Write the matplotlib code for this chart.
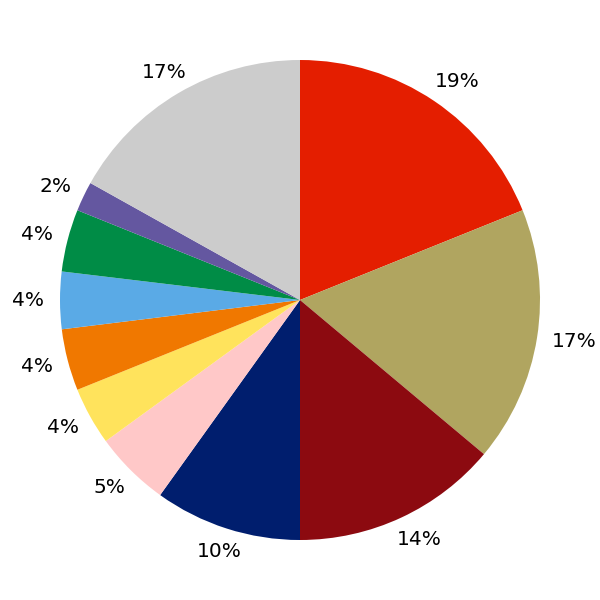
import matplotlib
matplotlib.use("Agg")
import numpy as np
from matplotlib import pyplot as plt

# valores (em %), sentido horario a partir do topo
values = [18.9, 17.2, 13.9, 9.9, 5.1, 3.9, 4.15, 3.85, 4.2, 2.0, 16.9]
colors = ["#E41E00", "#B0A560", "#8C0A10", "#001E6E", "#FFC8C8", "#FFE35C",
          "#F07800", "#5AAAE6", "#008C46", "#6457A0", "#CCCCCC"]

fig = plt.figure(figsize=(6, 6), dpi=100)
ax = fig.add_axes([0, 0, 1, 1])

wedges, texts, autotexts = ax.pie(values, colors=colors, startangle=90, counterclock=False,
                                  autopct="%1.0f%%", pctdistance=1.13,
                                  textprops={"fontsize": 14.5, "color": "black"},
                                  wedgeprops={"linewidth": 0})

# rotulos um pouco mais afastados na horizontal que na vertical
for w, t in zip(wedges, autotexts):
    ang = np.deg2rad((w.theta1 + w.theta2) / 2)
    t.set_position((0.0125 + 1.145 * np.cos(ang), 1.10 * np.sin(ang)))

ax.set_xlim(-1.25, 1.25)
ax.set_ylim(-1.25, 1.25)
ax.set_aspect("equal")
ax.axis("off")

fig.savefig("out.png", dpi=100)
